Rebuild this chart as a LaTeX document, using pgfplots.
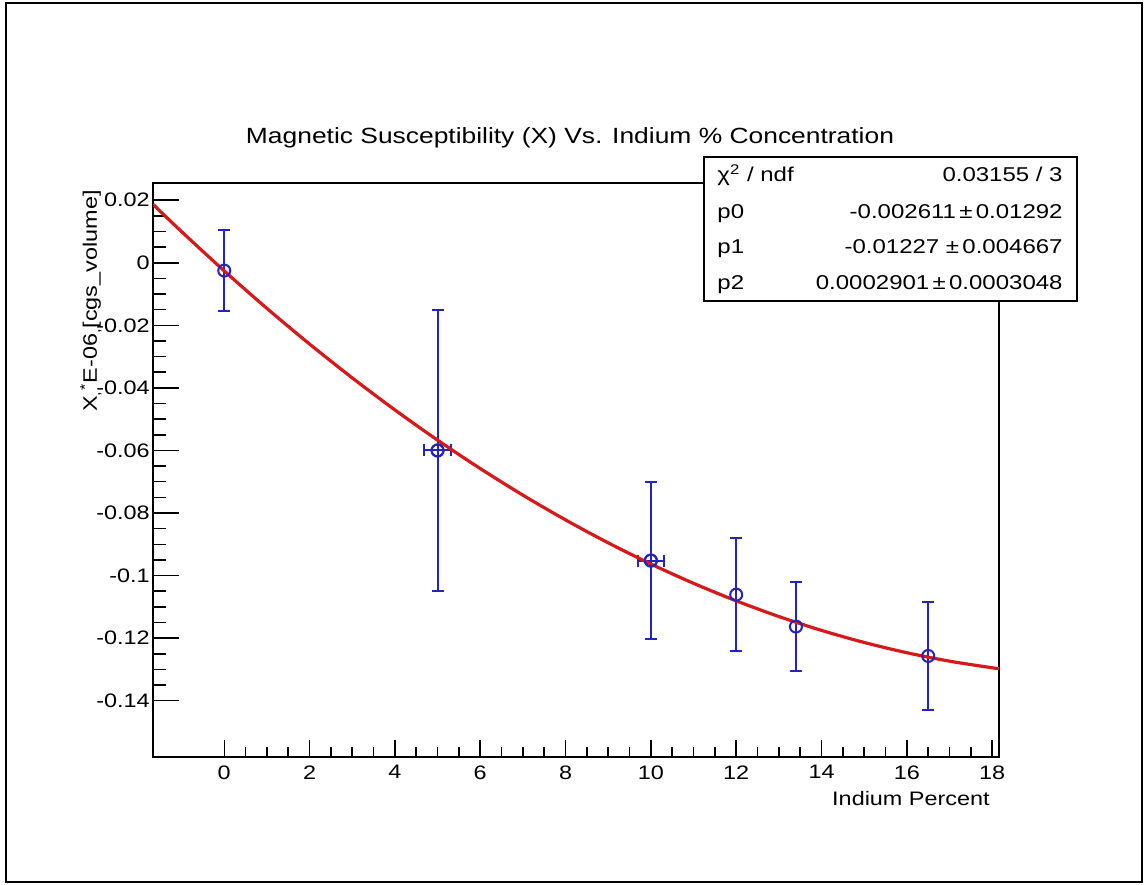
\documentclass[border=0pt]{standalone}
\usepackage{fontspec}
\setmainfont{Liberation Sans}[FakeStretch=1.2]
\usepackage{pgfplots}
\pgfplotsset{compat=1.18}
\usepackage{pgfplotstable}
\definecolor{rootblue}{RGB}{35,35,190}
\definecolor{rootred}{RGB}{215,25,25}

\pgfplotstableread{
x y ey
0 -0.0025 0.013
5 -0.0600 0.045
10 -0.0952 0.025
12 -0.1061 0.018
13.4 -0.1163 0.0141
16.5 -0.1257 0.0173
}\datatable
\pgfplotstableread{
x y ex
5 -0.0600 0.31
10 -0.0952 0.31
}\xerrtable

\pgfplotsset{
  rootframe/.style={
    scale only axis, width=423pt, height=287pt,
    at={(76.5pt,63.5pt)}, anchor=south west,
    xmin=-1.67, xmax=18.16, ymin=-0.158, ymax=0.0255,
    axis line style={line width=1pt},
    tick align=inside, xtick pos=bottom, ytick pos=left,
    tick style={black, line width=0.75pt},
    ticklabel style={font=\fontsize{9.75}{11}\selectfont},
    /pgf/number format/assume math mode=true,
  },
  errstyle/.style={
    rootblue, only marks, mark=o, mark size=3pt, mark options={fill=white, line width=1pt},
    error bars/error bar style={line width=1pt, rootblue},
    error bars/error mark options={rotate=90, mark size=3pt, line width=1pt, rootblue},
  },
}

\begin{document}
\begin{tikzpicture}
\useasboundingbox (0,0) rectangle (572pt,442pt);
\draw[line width=1pt] (3pt,1pt) rectangle (571pt,440.5pt);
% y ticks (longer)
\begin{axis}[rootframe,
  xtick=\empty,
  ytick={-0.14,-0.12,-0.1,-0.08,-0.06,-0.04,-0.02,0,0.02},
  yticklabels={-0.14,-0.12,-0.1,-0.08,-0.06,-0.04,-0.02,0,0.02},
  minor y tick num=3,
  major tick length=13pt, minor tick length=6.5pt,
  yticklabel style={inner sep=0pt, xshift=-1.5pt},
]
\end{axis}
% x ticks and data
\begin{axis}[rootframe,
  ytick=\empty,
  xtick={0,2,...,18},
  minor x tick num=3,
  major tick length=8.5pt, minor tick length=5pt,
  xticklabel style={inner sep=0pt, yshift=-4pt},
  xlabel={Indium Percent},
  xlabel style={font=\fontsize{9.75}{11}\selectfont, at={(axis description cs:1,0)}, anchor=base east, inner sep=0pt, yshift=-24pt, xshift=-4.5pt},
]
\addplot[errstyle, error bars/.cd, x dir=both, x explicit]
  table[x=x, y=y, x error=ex]{\xerrtable};
\addplot[errstyle, error bars/.cd, y dir=both, y explicit]
  table[x=x, y=y, y error=ey]{\datatable};
\addplot[rootred, line width=1.6pt, smooth, no marks] coordinates {
(-1.67,0.018689) (-1,0.009949) (0,-0.002611) (1,-0.014591) (2,-0.025991)
(3,-0.036810) (4,-0.047049) (5,-0.056708) (6,-0.065787) (7,-0.074286)
(8,-0.082205) (9,-0.089543) (10,-0.096301) (11,-0.102479) (12,-0.108077)
(13,-0.113094) (14,-0.117531) (15,-0.121388) (16,-0.124665) (17,-0.127362)
(18,-0.129479) (18.16,-0.129762)
};
\end{axis}
\node[rotate=90, anchor=east, inner sep=0pt, font=\fontsize{9.75}{11}\selectfont] at (45.5pt,347pt)
  {X\textsubscript{,}\textsuperscript{*}E-06\textsubscript{,}[cgs\_volume]};
\node[anchor=base, inner sep=0pt, font=\fontsize{11}{13}\selectfont] at (285pt,370pt)
  {Magnetic Susceptibility (X) Vs. Indium \% Concentration};
\draw[fill=white, line width=0.75pt] (352pt,291.5pt) rectangle (538.5pt,363.5pt);
\begin{scope}[every node/.style={inner sep=0pt, font=\fontsize{10}{12}\selectfont}]
\node[anchor=base west] at (358.5pt,351.2pt) {χ\textsuperscript{2} / ndf};
\node[anchor=base east] at (531.5pt,351.2pt) {0.03155 / 3};
\node[anchor=base west] at (358.5pt,332.9pt) {p0};
\node[anchor=base east] at (531.5pt,332.9pt) {-0.002611\,±\,0.01292};
\node[anchor=base west] at (358.5pt,315pt) {p1};
\node[anchor=base east] at (531.5pt,315pt) {-0.01227 ±\,0.004667};
\node[anchor=base west] at (358.5pt,297pt) {p2};
\node[anchor=base east] at (531.5pt,297pt) {0.0002901\,±\,0.0003048};
\end{scope}
\end{tikzpicture}
\end{document}
